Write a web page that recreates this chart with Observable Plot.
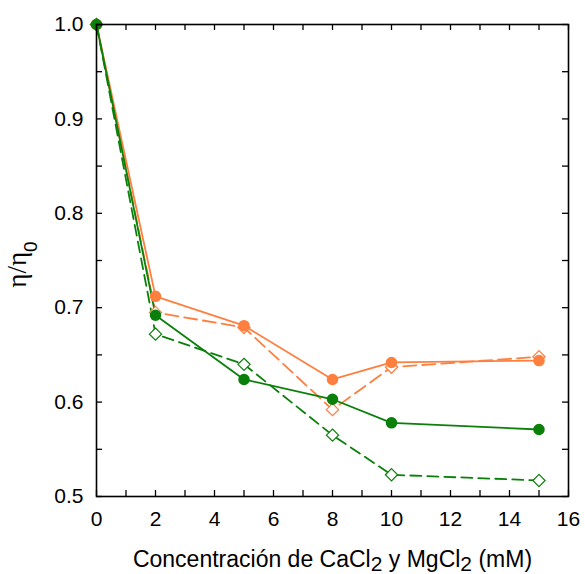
<!DOCTYPE html>
<html><head><meta charset="utf-8">
<script src="https://cdn.jsdelivr.net/npm/d3@7"></script>
<script src="https://cdn.jsdelivr.net/npm/@observablehq/plot@0.6"></script>
<style>body{margin:0;background:#fff}</style>
</head><body><div id="chart"></div>
<script>
const conc = [0, 2, 5, 8, 10, 15];
const orangeSolid = [1.0, 0.712, 0.681, 0.624, 0.642, 0.644];
const orangeDashed = [1.0, 0.695, 0.679, 0.592, 0.637, 0.648];
const greenSolid = [1.0, 0.692, 0.624, 0.603, 0.578, 0.571];
const greenDashed = [1.0, 0.672, 0.640, 0.565, 0.523, 0.517];
const xTicks = [0, 2, 4, 6, 8, 10, 12, 14, 16];
const xMinor = d3.range(0, 17, 1);
const yTicks = [0.5, 0.6, 0.7, 0.8, 0.9, 1.0];
const yMinor = d3.range(0.5, 1.0001, 0.05);

const ORANGE = "#ff7f3f";
const GREEN = "#0a800a";

const series = [
  {vals: orangeSolid, color: ORANGE, dash: null, sym: "circle"},
  {vals: orangeDashed, color: ORANGE, dash: "13,6", sym: "diamond"},
  {vals: greenSolid, color: GREEN, dash: null, sym: "circle"},
  {vals: greenDashed, color: GREEN, dash: "11,6", sym: "diamond"}
];

const marks = [];
for (const s of series) {
  const data = conc.map((c, i) => ({x: c, y: s.vals[i]}));
  marks.push(Plot.line(data, {x: "x", y: "y", stroke: s.color, strokeWidth: 1.8, strokeDasharray: s.dash}));
}
// diamonds first, then filled circles on top
for (const s of series.filter(s => s.sym === "diamond")) {
  const data = conc.map((c, i) => ({x: c, y: s.vals[i]}));
  marks.push(Plot.dot(data, {x: "x", y: "y", r: 5.5, symbol: "diamond2", fill: "white", stroke: s.color, strokeWidth: 1.2}));
}
for (const s of series.filter(s => s.sym === "circle")) {
  const data = conc.map((c, i) => ({x: c, y: s.vals[i]}));
  marks.push(Plot.dot(data, {x: "x", y: "y", r: 5, fill: s.color, stroke: s.color}));
}

const ty = 6 / 944;        // tick length in y units (approx 6px)
const tx = 6 / 29.5;       // tick length in x units

const chart = Plot.plot({
  width: 585,
  height: 574,
  marginLeft: 96,
  marginRight: 17,
  marginTop: 24,
  marginBottom: 78,
  style: {fontFamily: "Liberation Sans, Arial, sans-serif", fontSize: "21px", background: "white", color: "black"},
  x: {domain: [0, 16]},
  y: {domain: [0.5, 1.0]},
  marks: [
    ...marks,
    Plot.ruleX(xMinor, {x: d => d, y1: 0.5, y2: 0.5 + ty, stroke: "black", strokeWidth: 1.3}),
    Plot.ruleX(xMinor, {x: d => d, y1: 1.0, y2: 1.0 - ty, stroke: "black", strokeWidth: 1.3}),
    Plot.ruleY(yMinor, {y: d => d, x1: 0, x2: tx, stroke: "black", strokeWidth: 1.3}),
    Plot.ruleY(yMinor, {y: d => d, x1: 16, x2: 16 - tx, stroke: "black", strokeWidth: 1.3}),
    Plot.frame({stroke: "black", strokeWidth: 1.6}),
    Plot.axisX({ticks: xTicks, tickSize: 0, tickPadding: 15, label: null, fontSize: 21}),
    Plot.axisY({ticks: yTicks, tickSize: 0, tickPadding: 13, tickFormat: d3.format(".1f"), label: null, fontSize: 21}),
    Plot.text(["Concentración de CaCl|2| y MgCl|2| (mM)"], {text: d => d, frameAnchor: "bottom", textAnchor: "middle", lineAnchor: "middle", dy: 63, fontSize: 23, className: "xlab"}),
    Plot.text(["η/η|0"], {text: d => d, frameAnchor: "left", textAnchor: "middle", lineAnchor: "middle", dx: -79, dy: 4, rotate: -90, fontSize: 27, fontFamily: "Liberation Serif, Times New Roman, serif", className: "ylab"})
  ]
});

function subscriptify(sel, fs, shift, fam) {
  sel.each(function() {
    const t = d3.select(this);
    const parts = t.text().split("|");
    t.text("");
    parts.forEach((p, i) => {
      if (i % 2 === 1) {
        const ts = t.append("tspan").attr("dy", shift).attr("font-size", fs).text(p);
        if (fam) ts.attr("font-family", fam);
      } else if (i > 0) {
        t.append("tspan").attr("dy", -shift).text(p);
      } else {
        t.append("tspan").text(p);
      }
    });
  });
}
subscriptify(d3.select(chart).selectAll("g.xlab text"), "21px", 4.5);
subscriptify(d3.select(chart).selectAll("g.ylab text"), "19px", 11, "Liberation Sans, Arial, sans-serif");

document.getElementById("chart").appendChild(chart);
</script>
</body></html>
